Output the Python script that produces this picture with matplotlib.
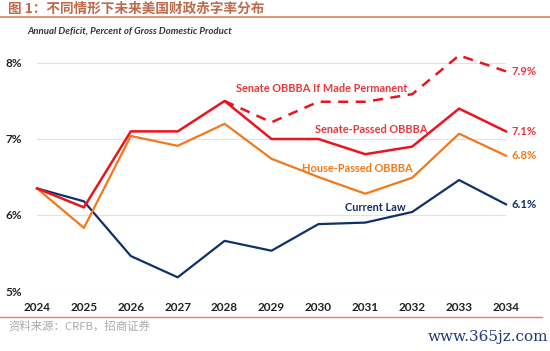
import matplotlib
matplotlib.use("Agg")
import matplotlib.pyplot as plt
from matplotlib.lines import Line2D

years = [2024, 2025, 2026, 2027, 2028, 2029, 2030, 2031, 2032, 2033, 2034]
current_law = [6.35, 6.18, 5.46, 5.18, 5.66, 5.53, 5.88, 5.90, 6.04, 6.46, 6.14]
senate_passed = [6.35, 6.10, 7.10, 7.10, 7.50, 7.00, 7.00, 6.80, 6.90, 7.40, 7.10]
house_passed = [6.35, 5.83, 7.04, 6.91, 7.20, 6.74, 6.50, 6.28, 6.49, 7.07, 6.78]
perm_years = [2028, 2029, 2030, 2031, 2032, 2033, 2034]
senate_perm = [7.50, 7.22, 7.49, 7.49, 7.59, 8.10, 7.89]
yticks = [5, 6, 7, 8]
ytick_labels = ["5%", "6%", "7%", "8%"]
end_labels = ["7.9%", "7.1%", "6.8%", "6.1%"]

RED = "#E8141E"
ORANGE = "#F07A1A"
NAVY = "#10306B"
LRED = "#E8393C"

plt.rcParams['font.family'] = ['Noto Sans CJK SC', 'DejaVu Sans']

fig = plt.figure(figsize=(5.5, 3.51), dpi=100)
ax = fig.add_axes([37/550, 1-291/351, (506-37)/550, (291-47.8)/351])
ax.set_xlim(2024, 2034)
ax.set_ylim(5, 8.2)

for y in yticks:
    ax.axhline(y, color="#E3E3E3", lw=0.8, zorder=0)

ax.plot(years, current_law, color=NAVY, lw=1.6, clip_on=False)
ax.plot(years, house_passed, color=ORANGE, lw=1.6, clip_on=False)
ax.plot(years, senate_passed, color=RED, lw=1.8, clip_on=False)
ax.plot(perm_years, senate_perm, color=RED, lw=1.8, ls=(0, (4, 3)), clip_on=False)

for s in ax.spines.values():
    s.set_visible(False)
ax.tick_params(length=0)
ax.set_yticks(yticks)
ax.set_yticklabels(ytick_labels, fontfamily="Lato", fontweight="bold", fontsize=8.5, color="#222222")
ax.set_xticks(years)
ax.set_xticklabels([str(y) for y in years], fontfamily="Lato", fontweight="bold", fontsize=8.5, color="#222222")
ax.tick_params(axis="y", pad=11)
ax.tick_params(axis="x", pad=8)

lab_kw = dict(fontfamily="Lato", fontweight="bold", fontsize=7.9)
ax.text(2030.06, 7.66, "Senate OBBBA If Made Permanent", color=LRED, ha="center", va="center", **lab_kw)
ax.text(2031.12, 7.13, "Senate-Passed OBBBA", color=LRED, ha="center", va="center", **lab_kw)
ax.text(2030.83, 6.61, "House-Passed OBBBA", color=ORANGE, ha="center", va="center", **lab_kw)
ax.text(2031.22, 6.10, "Current Law", color=NAVY, ha="center", va="center", **lab_kw)

end_vals = [senate_perm[-1], senate_passed[-1], house_passed[-1], current_law[-1]]
end_cols = [LRED, LRED, ORANGE, NAVY]
for v, t, c in zip(end_vals, end_labels, end_cols):
    ax.annotate(t, (2034, v), xytext=(4, 0), textcoords="offset points",
                color=c, ha="left", va="center", fontfamily="Lato", fontweight="bold", fontsize=8.2)

# title & decorations
fig.text(8/550, 1-9/351, "图 1：不同情形下未来美国财政赤字率分布", color="#BF6A4A",
         fontsize=9.8, fontweight="bold", ha="left", va="center")
fig.add_artist(Line2D([0, 1], [1-17/351, 1-17/351], color="#D98560", lw=1.2, transform=fig.transFigure))
fig.text(27/550, 1-31/351, "Annual Deficit, Percent of Gross Domestic Product",
         fontfamily="Lato", fontstyle="italic", fontweight="bold", fontsize=6.9, color="#333333",
         ha="left", va="center")
fig.add_artist(Line2D([0, 0.985], [1-317/351, 1-317/351], color="#D98560", lw=1.0, transform=fig.transFigure))
fig.text(8/550, 1-326/351, "资料来源：CRFB，招商证券", color="#AAAAAA", fontsize=8.2,
         ha="left", va="center")
fig.text(548/550, 1-337/351, "www.365jz.com", color="#1F3A7A", fontfamily="DejaVu Serif",
         fontsize=11, ha="right", va="center")

fig.savefig("out.png", dpi=100)
